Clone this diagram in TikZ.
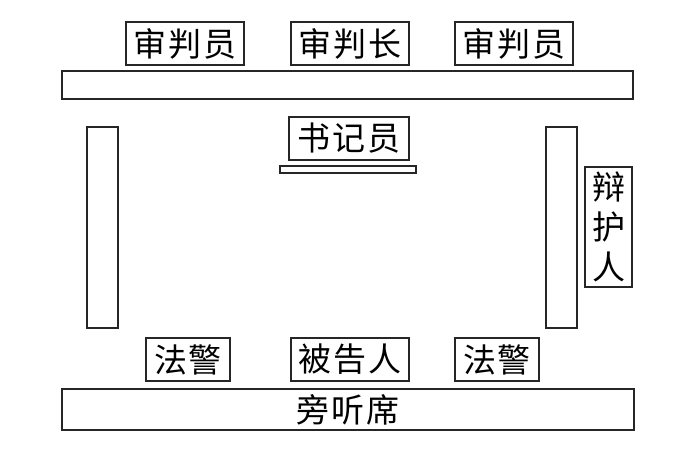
\documentclass[tikz,border=0pt]{standalone}
\usepackage{fontspec}
\newfontfamily\cjk{Noto Sans CJK SC}[LetterSpace=5]
\begin{document}
\begin{tikzpicture}[x=1pt,y=-1pt,
  every node/.style={inner sep=0pt, outer sep=0pt},
  frame/.style={draw=black!85, line width=1.2pt, rectangle, font=\cjk\fontsize{33}{41}\selectfont},
  wide/.style={frame, minimum width=118pt, minimum height=43pt},
  narrow/.style={frame, minimum width=84pt, minimum height=43pt}]
\useasboundingbox (0,0) rectangle (700,460);
\node[wide] (j1) at (185,43.5) {审判员};
\node[wide] (j2) at (350,43.5) {审判长};
\node[wide] (j3) at (514,43.5) {审判员};
\node[frame, minimum width=571pt, minimum height=28pt] (bench) at (347.5,85) {};
\node[frame, minimum width=120pt, minimum height=43pt] (clerk) at (349,138.5) {书记员};
\node[frame, minimum width=136pt, minimum height=7pt] (desk) at (348,169.5) {};
\node[frame, minimum width=31pt, minimum height=201pt] (lbar) at (102.5,227.5) {};
\node[frame, minimum width=31pt, minimum height=201pt] (rbar) at (561.5,227.5) {};
\node[frame, minimum width=47pt, minimum height=120pt, align=center] (def) at (608.5,227) {辩\\[-1pt]护\\[-1pt]人};
\node[narrow] (p1) at (188,359.5) {法警};
\node[wide] (dft) at (350,359.5) {被告人};
\node[narrow] (p2) at (497,359.5) {法警};
\node[frame, minimum width=572pt, minimum height=41pt] (gal) at (348,409.5) {旁听席};
\end{tikzpicture}
\end{document}
